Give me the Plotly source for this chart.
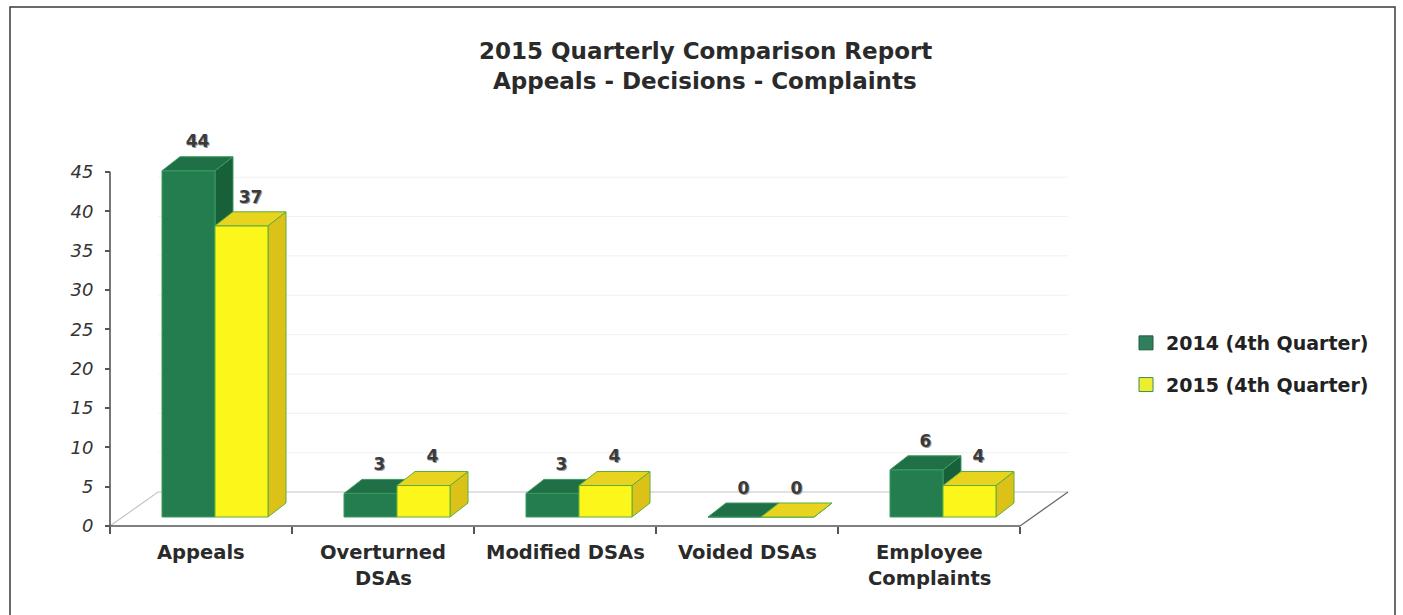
import plotly.graph_objects as go

# ---- data -------------------------------------------------------------
categories = ["Appeals", "Overturned\nDSAs", "Modified DSAs", "Voided DSAs", "Employee\nComplaints"]
series_names = ["2014 (4th Quarter)", "2015 (4th Quarter)"]
values_2014 = [44, 3, 3, 0, 6]
values_2015 = [37, 4, 4, 0, 4]
y_ticks = [0, 5, 10, 15, 20, 25, 30, 35, 40, 45]
title_lines = ["2015 Quarterly Comparison Report", "Appeals - Decisions - Complaints"]

# ---- page geometry (pixels) -------------------------------------------
W, H = 1403, 615
PX_PER_CAT = 182.0     # width of one category slot
PX_PER_UNIT = 7.87     # vertical pixels per value unit
CAT0_PX = 201.0        # centre of the first category
BASE_PX = 526.0        # front edge of the floor (value 0)

x_range = [-CAT0_PX / PX_PER_CAT, (W - CAT0_PX) / PX_PER_CAT]
y_range = [-(H - BASE_PX) / PX_PER_UNIT, BASE_PX / PX_PER_UNIT]


def ux(px):
    return px / PX_PER_CAT


def uy(px):
    return px / PX_PER_UNIT


# pseudo-3D depth settings
FLOOR_DX, FLOOR_DY = ux(48), uy(34)    # floor depth
BAR_DX, BAR_DY = ux(18), uy(14)        # bar depth
BAR_SHIFT_X, BAR_SHIFT_Y = ux(-39), uy(9)  # bars sit part-way back on the floor
BAR_W = ux(53)
LABEL_GAP = uy(5)

FONT = "DejaVu Sans"

colors = {
    "2014": dict(front="#237d4f", top="#1f7046", side="#17603a", edge="#3d9a60", legend="#2f7f5c"),
    "2015": dict(front="#fcf61a", top="#e8d41e", side="#dcc218", edge="#5fae3a", legend="#eeee30"),
}

fig = go.Figure()

# back-wall gridlines
gx, gy = [], []
for v in y_ticks[1:-1]:
    gx += [-0.5 + FLOOR_DX, len(categories) - 0.5 + FLOOR_DX, None]
    gy += [FLOOR_DY + v, FLOOR_DY + v, None]
fig.add_trace(go.Scatter(x=gx, y=gy, mode="lines", line=dict(color="#f1f1f1", width=1),
                         hoverinfo="skip", showlegend=False))

# floor
n = len(categories)
x_l, x_r = -0.5, n - 0.5
fig.add_trace(go.Scatter(
    x=[x_l, x_l + FLOOR_DX, x_r + FLOOR_DX], y=[0, FLOOR_DY, FLOOR_DY],
    mode="lines", line=dict(color="#c4c4c4", width=1.2), hoverinfo="skip", showlegend=False))
fig.add_trace(go.Scatter(
    x=[x_r, x_r + FLOOR_DX], y=[0, FLOOR_DY],
    mode="lines", line=dict(color="#6a6a6a", width=1.3), hoverinfo="skip", showlegend=False))
fig.add_trace(go.Scatter(
    x=[x_l, x_r], y=[0, 0],
    mode="lines", line=dict(color="#555555", width=1.6), hoverinfo="skip", showlegend=False))


def faces(values, slot):
    """Front, top and side polygons of every bar in one series."""
    fx, fy, tx, ty, sx, sy = [], [], [], [], [], []
    for i, v in enumerate(values):
        xl = i + BAR_SHIFT_X + slot * BAR_W
        xr = xl + BAR_W
        b = BAR_SHIFT_Y
        t = b + v
        fx += [xl, xr, xr, xl, xl, None]
        fy += [b, b, t, t, b, None]
        tx += [xl, xr, xr + BAR_DX, xl + BAR_DX, xl, None]
        ty += [t, t, t + BAR_DY, t + BAR_DY, t, None]
        sx += [xr, xr + BAR_DX, xr + BAR_DX, xr, xr, None]
        sy += [b, b + BAR_DY, t + BAR_DY, t, b, None]
    return (fx, fy), (tx, ty), (sx, sy)


for slot, (key, vals) in enumerate([("2014", values_2014), ("2015", values_2015)]):
    c = colors[key]
    front, top, side = faces(vals, slot)
    for (xs, ys), fill in [(side, c["side"]), (front, c["front"]), (top, c["top"])]:
        fig.add_trace(go.Scatter(x=xs, y=ys, mode="lines", fill="toself", fillcolor=fill,
                                 line=dict(color=c["edge"], width=1), hoverinfo="skip",
                                 showlegend=False))

# value labels above each bar
for slot, vals in enumerate([values_2014, values_2015]):
    lx = [i + BAR_SHIFT_X + slot * BAR_W + BAR_W / 2 + BAR_DX / 2 for i in range(n)]
    ly = [BAR_SHIFT_Y + v + BAR_DY + LABEL_GAP for v in vals]
    fig.add_trace(go.Scatter(
        x=lx, y=ly, mode="text", text=[str(v) for v in vals], textposition="top center",
        textfont=dict(family=FONT, size=17, weight="bold", color="#3a3a3a",
                      shadow="1px 1px 0px #9a9a9a"),
        hoverinfo="skip", showlegend=False, cliponaxis=False))

# legend entries
for key, name in zip(["2014", "2015"], series_names):
    fig.add_trace(go.Scatter(
        x=[None], y=[None], mode="markers", name=name, legendgroup=key,
        marker=dict(symbol="square", size=14, color=colors[key]["legend"],
                    line=dict(color="#3d8a55" if key == "2015" else "#1f5e40", width=1))))

# category labels (one annotation per text line)
annotations = []
for i, cat in enumerate(categories):
    for j, line in enumerate(cat.split("\n")):
        annotations.append(dict(
            x=i, y=1 - (552 + 26 * j) / H, xref="x", yref="paper", text=line, showarrow=False,
            xanchor="center", yanchor="middle",
            font=dict(family=FONT, size=19.5, weight="bold", color="#2a2a2a")))

for j, line in enumerate(title_lines):
    annotations.append(dict(
        x=705 / W, y=1 - (51 + 30 * j) / H, xref="paper", yref="paper", text=line,
        showarrow=False, xanchor="center", yanchor="middle",
        font=dict(family=FONT, size=23, weight="bold", color="#2a2a2a")))

fig.update_layout(
    width=W, height=H,
    margin=dict(l=0, r=0, t=0, b=0),
    paper_bgcolor="white", plot_bgcolor="white",
    showlegend=True,
    legend=dict(x=1126 / W, y=1 - 324 / H, xanchor="left", yanchor="top",
                font=dict(family=FONT, size=19, weight="bold", color="#222222"),
                tracegroupgap=14, bgcolor="rgba(0,0,0,0)"),
    xaxis=dict(range=x_range, domain=[0, 1], anchor="free", position=(H - BASE_PX) / H,
               tickmode="array", tickvals=[i - 0.5 for i in range(n + 1)],
               showticklabels=False, ticks="outside", ticklen=7, tickwidth=1.5,
               tickcolor="#555555", showgrid=False, zeroline=False, showline=False),
    yaxis=dict(range=y_range, domain=[0, 1], anchor="free", position=110 / W,
               tickmode="array", tickvals=y_ticks, ticks="outside", ticklen=5, tickwidth=1.5,
               tickcolor="#555555", ticklabelstandoff=8,
               tickfont=dict(family=FONT, size=18, style="italic", color="#333333"),
               showgrid=False, zeroline=False, showline=False),
    annotations=annotations,
    shapes=[
        # y axis line, value 0 to 45
        dict(type="line", xref="paper", yref="y", x0=110 / W, x1=110 / W,
             y0=y_ticks[0], y1=y_ticks[-1], line=dict(color="#555555", width=1.6)),
        # outer frame
        dict(type="rect", xref="paper", yref="paper", x0=10 / W, x1=1395 / W,
             y0=-0.05, y1=1 - 7 / H, line=dict(color="#3a3a3a", width=1.5)),
    ],
)

fig.write_html("out.html")
